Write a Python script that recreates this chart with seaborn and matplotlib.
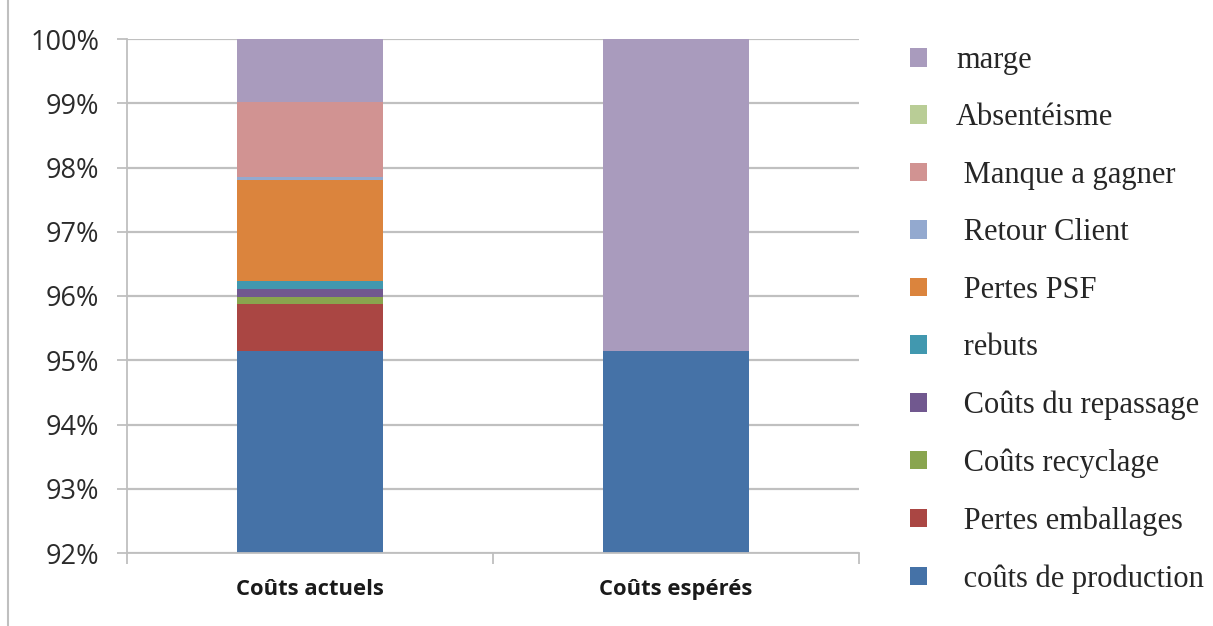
import numpy as np
import pandas as pd
import seaborn as sns
import matplotlib.pyplot as plt
from matplotlib.patches import Patch
from matplotlib.lines import Line2D
from matplotlib.ticker import FixedLocator, FuncFormatter

categories = ["Coûts actuels", "Coûts espérés"]
series = ["coûts de production", "Pertes emballages", "Coûts recyclage", "Coûts du repassage",
          "rebuts", "Pertes PSF", "Retour Client", "Manque a gagner", "Absentéisme", "marge"]
legend_labels = [" coûts de production", " Pertes emballages", " Coûts recyclage", " Coûts du repassage",
                 " rebuts", " Pertes PSF", " Retour Client", " Manque a gagner", "Absentéisme", "marge"]

# part of total cost, in %
production = [95.15, 95.15]
emballages = [0.72, 0.0]
recyclage = [0.11, 0.0]
repassage = [0.13, 0.0]
rebuts = [0.13, 0.0]
psf = [1.56, 0.0]
retour = [0.05, 0.0]
manque = [1.17, 0.0]
absenteisme = [0.0, 0.0]
marge = [0.98, 4.85]

colors = ["#4572A7", "#AA4643", "#89A54E", "#71588F", "#4198AF",
          "#DB843D", "#93A9CF", "#D19392", "#B9CD96", "#A99BBD"]

values = [production, emballages, recyclage, repassage, rebuts, psf, retour, manque, absenteisme, marge]
df = pd.DataFrame(np.array(values).T, index=categories, columns=series)
cum = df.cumsum(axis=1)

sns.set_style("white")
fig = plt.figure(figsize=(12.13, 6.26), dpi=100)
ax = fig.add_axes([127 / 1213, 1 - 553 / 626, (859 - 127) / 1213, (553 - 39) / 626])

# stacked bars: draw cumulative totals from the top down
for s, c in zip(series[::-1], colors[::-1]):
    sns.barplot(x=categories, y=cum[s].values, color=c, width=0.4, saturation=1,
                edgecolor="none", linewidth=0, ax=ax, zorder=2)

ax.set_ylim(92, 100)
ax.set_xlim(-0.5, 1.5)
ax.set_yticks(range(92, 101))
ax.yaxis.set_major_formatter(FuncFormatter(lambda v, p: f"{v:.0f}%"))
ax.yaxis.grid(True, color="#C0C0C0", linewidth=1.6, zorder=0)
ax.set_axisbelow(True)

for side in ["top", "right"]:
    ax.spines[side].set_visible(False)
for side in ["left", "bottom"]:
    ax.spines[side].set_color("#BFBFBF")
    ax.spines[side].set_linewidth(1.3)

ax.tick_params(axis="y", length=7, width=1.3, color="#BFBFBF", pad=13, labelsize=19.5,
               labelcolor="#2b2b2b", left=True)
for t in ax.get_yticklabels():
    t.set_fontfamily("Open Sans")
ax.tick_params(axis="x", which="major", length=0, pad=19)
ax.xaxis.set_minor_locator(FixedLocator([-0.5, 0.5, 1.5]))
ax.tick_params(axis="x", which="minor", length=8, width=1.3, color="#BFBFBF", bottom=True)
ax.set_xticks([0, 1])
ax.set_xticklabels(categories, fontsize=15.8, fontweight="bold", fontfamily="Open Sans", color="#1a1a1a")
ax.set_xlabel("")
ax.set_ylabel("")

handles = [Patch(facecolor=c, edgecolor="none") for c in colors[::-1]]
fig.legend(handles, legend_labels[::-1], loc="upper left", bbox_to_anchor=(910 / 1213, 1 - 46 / 626),
           frameon=False, prop={"family": "Liberation Serif", "size": 22},
           borderaxespad=0, borderpad=0,
           handlelength=0.56, handleheight=0.56, handletextpad=0.95, labelspacing=0.93)

fig.add_artist(Line2D([8 / 1213, 8 / 1213], [0, 1], color="#BFBFBF", linewidth=1.5))

fig.savefig("out.png", dpi=100)
